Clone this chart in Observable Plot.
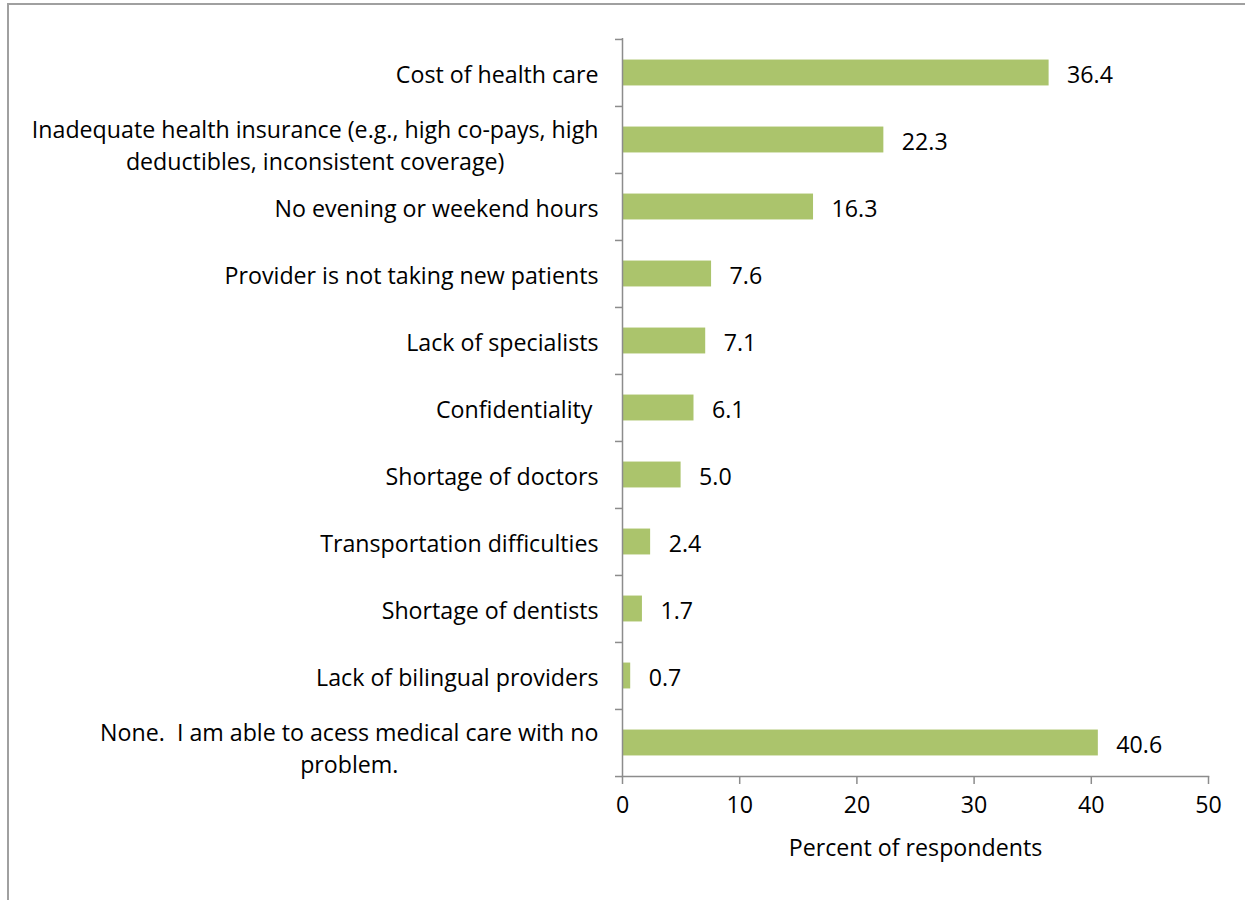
<!DOCTYPE html>
<html>
<head>
<meta charset="utf-8">
<script src="https://cdn.jsdelivr.net/npm/d3@7"></script>
<script src="https://cdn.jsdelivr.net/npm/@observablehq/plot@0.6"></script>
<style>
  html, body { margin: 0; padding: 0; background: #fff; }
  #wrap { position: relative; width: 1245px; height: 900px; overflow: hidden; }
  #border { position: absolute; left: 7px; top: 3px; width: 1300px; height: 1000px;
            border-left: 2px solid #a0a0a0; border-top: 2px solid #a0a0a0; }
  #chart { position: absolute; left: 0; top: 0; }
</style>
</head>
<body>
<div id="wrap"><div id="border"></div><div id="chart"></div></div>
<script>
const categories = [
  "Cost of health care",
  "Inadequate health insurance (e.g., high co-pays, high\ndeductibles, inconsistent coverage)",
  "No evening or weekend hours",
  "Provider is not taking new patients",
  "Lack of specialists",
  "Confidentiality ",
  "Shortage of doctors",
  "Transportation difficulties",
  "Shortage of dentists",
  "Lack of bilingual providers",
  "None.  I am able to acess medical care with no\nproblem."
];
const values = [36.4, 22.3, 16.3, 7.6, 7.1, 6.1, 5.0, 2.4, 1.7, 0.7, 40.6];
const xTicks = [0, 10, 20, 30, 40, 50];
const xDomain = [0, 50];
const xLabel = "Percent of respondents";

const data = categories.map((c, i) => ({category: c, value: values[i], label: values[i].toFixed(1)}));

const canvas = document.createElement("canvas");
const ctx = canvas.getContext("2d");
function w(text, fam, size) { ctx.font = `${size}px ${fam}`; return ctx.measureText(text).width; }

const FONT = "'Open Sans'";
const FS = 23.2;
const W = 1245, H = 900;
const mL = 622, mR = 37, mT = 38, mB = 124;
const step = (H - mT - mB) / categories.length;
const barH = 26;
const axisColor = "#8c8c8c";
const gap = 24;

const single = data.filter(d => !d.category.includes("\n"));
const multi = data.filter(d => d.category.includes("\n"));

const marks = [
  Plot.barX(data, {x: "value", y: "category", fill: "#abc46c", insetTop: (step - barH) / 2, insetBottom: (step - barH) / 2}),
  Plot.text(data, {x: "value", y: "category", text: "label", textAnchor: "start", dx: 18, dy: 3, fill: "#000"}),
  Plot.text(single, {x: 0, y: "category", text: "category", textAnchor: "end", dx: -gap, dy: 3, fill: "#000"}),
  ...multi.map(d => {
    const mw = Math.max(...d.category.split("\n").map(s => w(s, FONT, FS)));
    return Plot.text([d], {x: 0, y: "category", text: "category", textAnchor: "middle", dx: -gap - mw / 2, dy: 4, lineHeight: 1.37, fill: "#000"});
  }),
  Plot.ruleX([0], {stroke: axisColor, strokeWidth: 1.5}),
  Plot.frame({anchor: "bottom", stroke: axisColor, strokeWidth: 1.5}),
  Plot.axisY(categories, {tickSize: 7, tickFormat: () => "", label: null, dy: -step / 2, stroke: axisColor, strokeWidth: 1.5}),
  Plot.axisY([categories[categories.length - 1]], {tickSize: 7, tickFormat: () => "", label: null, dy: step / 2, stroke: axisColor, strokeWidth: 1.5}),
  Plot.axisX(xTicks, {tickSize: 8, tickPadding: 12, stroke: axisColor, strokeWidth: 1.5, fill: "#000", label: null}),
  Plot.text([xLabel], {text: d => d, frameAnchor: "bottom", dy: 79, fill: "#000"})
];

const chart = Plot.plot({
  width: W, height: H,
  marginLeft: mL, marginRight: mR, marginTop: mT, marginBottom: mB,
  style: {fontFamily: FONT, fontSize: FS + "px", color: "#000", background: "transparent", overflow: "visible"},
  x: {domain: xDomain, ticks: xTicks, label: null, axis: null},
  y: {domain: categories, padding: 0, axis: null},
  marks
});
document.getElementById("chart").append(chart);
</script>
</body>
</html>
